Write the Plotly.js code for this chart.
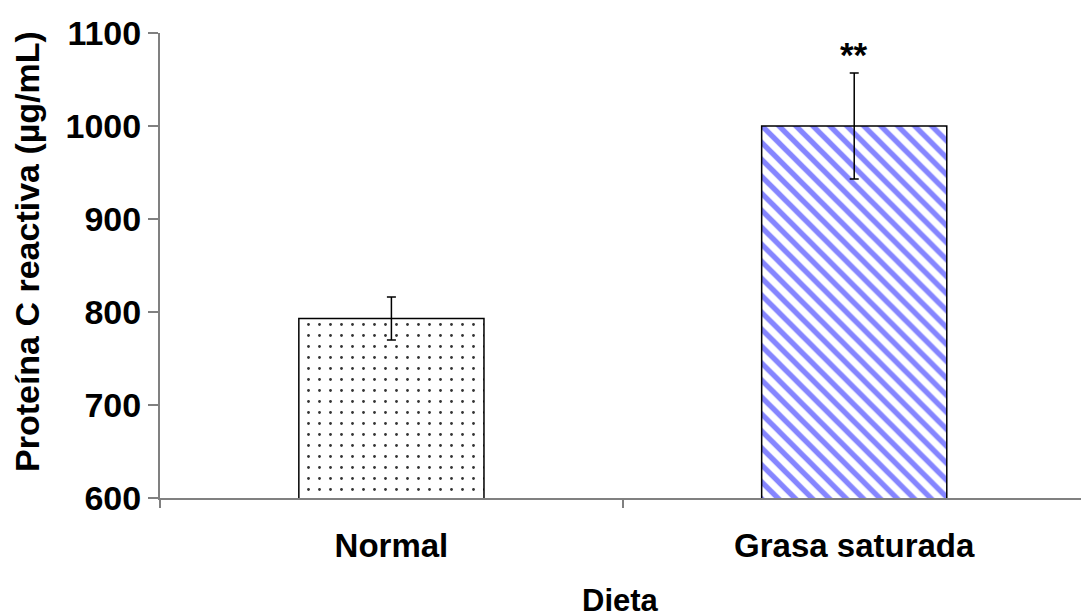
<!DOCTYPE html>
<html>
<head>
<meta charset="utf-8">
<script src="https://cdn.plot.ly/plotly-3.0.1.min.js"></script>
<style>
  html, body { margin: 0; padding: 0; background: #ffffff; }
  #chart { width: 1081px; height: 614px; }
</style>
</head>
<body>
<div id="chart"></div>
<script>
// Diet groups and their mean C-reactive protein level with standard error
const categories = ['Normal', 'Grasa saturada'];
const means = [793, 1000];
const errors = [23, 57];
const significance = ['', '**'];

const yTicks = [600, 700, 800, 900, 1000, 1100];

const FONT = 'Liberation Sans, Arial, sans-serif';
const AXIS_GREY = '#808080';

// Each bar is its own trace so it can carry its own fill pattern
const fills = [
  { shape: '.', fgcolor: '#333333', bgcolor: '#ffffff', size: 11, solidity: 0.05 },
  { shape: '\\', fgcolor: '#8585ff', bgcolor: '#ffffff', size: 12, solidity: 0.45 }
];

const traces = categories.map((cat, i) => ({
  type: 'bar',
  x: [cat],
  y: [means[i]],
  width: 0.4,
  marker: {
    color: '#ffffff',
    line: { color: '#000000', width: 1.5 },
    pattern: Object.assign({ fillmode: 'replace' }, fills[i])
  },
  error_y: {
    type: 'data',
    array: [errors[i]],
    visible: true,
    color: '#000000',
    thickness: 1.5,
    width: 4.5
  },
  hoverinfo: 'skip',
  showlegend: false
}));

// Significance marks sit just above the upper error whisker
const annotations = categories
  .map((cat, i) => ({ cat, i }))
  .filter(d => significance[d.i])
  .map(d => ({
    x: d.cat,
    y: means[d.i] + errors[d.i],
    xref: 'x',
    yref: 'y',
    text: '<b>' + significance[d.i] + '</b>',
    showarrow: false,
    yanchor: 'bottom',
    yshift: -3,
    font: { family: FONT, size: 35, color: '#000000' }
  }));

// Vertical value-axis title, placed beside the tick labels
annotations.push({
  xref: 'paper',
  yref: 'paper',
  x: -0.1444,
  y: 0.529,
  xanchor: 'center',
  yanchor: 'middle',
  textangle: -90,
  showarrow: false,
  text: '<b>Proteína C reactiva (µg/mL)</b>',
  font: { family: FONT, size: 34, color: '#000000' }
});

// Category-axis title, low under the diet labels
annotations.push({
  xref: 'paper',
  yref: 'paper',
  x: 0.5,
  y: -0.2215,
  xanchor: 'center',
  yanchor: 'middle',
  showarrow: false,
  text: '<b>Dieta</b>',
  font: { family: FONT, size: 31, color: '#000000' }
});

const layout = {
  width: 1081,
  height: 614,
  paper_bgcolor: '#ffffff',
  plot_bgcolor: '#ffffff',
  margin: { l: 160, r: 0, t: 33, b: 116, pad: 0 },
  font: { family: FONT, color: '#000000' },
  bargap: 0,
  xaxis: {
    type: 'category',
    range: [-0.5, 1.49],
    automargin: false,
    showline: true,
    linecolor: AXIS_GREY,
    linewidth: 2,
    showgrid: false,
    zeroline: false,
    ticks: 'outside',
    tickson: 'boundaries',
    ticklen: 8,
    tickwidth: 2,
    tickcolor: AXIS_GREY,
    tickfont: { family: FONT, size: 33, color: '#000000', weight: 'bold' },
    ticklabelstandoff: 17,
    fixedrange: true
  },
  yaxis: {
    range: [600, 1100],
    automargin: false,
    tickvals: yTicks,
    ticktext: yTicks.map(v => '<b>' + v + '</b>'),
    showline: true,
    linecolor: AXIS_GREY,
    linewidth: 2,
    showgrid: false,
    zeroline: false,
    ticks: 'outside',
    ticklen: 10,
    tickwidth: 2,
    tickcolor: AXIS_GREY,
    tickfont: { family: FONT, size: 34, color: '#000000' },
    fixedrange: true
  },
  annotations: annotations
};

Plotly.newPlot('chart', traces, layout, { displayModeBar: false, staticPlot: true });
</script>
</body>
</html>
